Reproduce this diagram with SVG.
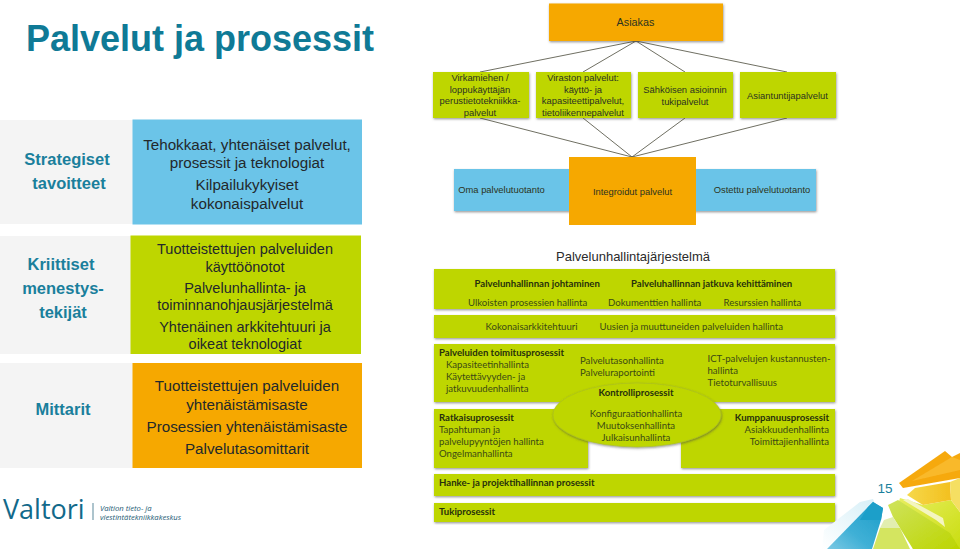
<svg xmlns="http://www.w3.org/2000/svg" width="960" height="549" viewBox="0 0 960 549">
<style>
text{font-family:"Liberation Sans",Arial,sans-serif;text-anchor:middle}
.lab{font-weight:bold;font-size:16.500px;fill:#1a7f9c}
.t{font-size:15.200px;fill:#23282b}
.tg{font-size:14.500px}
.g{fill:#bed600}
.o{fill:#f6a800}
.b{fill:#6bc4e8}
.p{fill:#f4f4f4}
.s{filter:url(#sh)}
.d{font-size:9.400px;fill:#2c3320}
.c{font-family:"Lato","Open Sans",sans-serif;font-size:9.600px;fill:#3c4a14;text-anchor:start}
.cb{font-family:"Lato","Open Sans",sans-serif;font-size:9.600px;font-weight:bold;fill:#27300c;text-anchor:start}
.m{text-anchor:middle}
.e{text-anchor:end}
.cn{stroke:#4a4a3a;stroke-width:.8;fill:none}
</style>
<defs>
<filter id="sh" x="-5%" y="-10%" width="110%" height="125%"><feDropShadow dx="0.6" dy="1.2" stdDeviation="0.8" flood-color="#444" flood-opacity="0.55"/></filter>
<filter id="bl" x="-10%" y="-10%" width="120%" height="120%"><feGaussianBlur stdDeviation="0.7"/></filter>
<linearGradient id="gb" x1="1" y1="0" x2="0" y2="1"><stop offset="0" stop-color="#1b9cc8"/><stop offset=".6" stop-color="#3fb0d6"/><stop offset="1" stop-color="#7cc9e4"/></linearGradient>
<linearGradient id="gh" x1="1" y1="0" x2="0" y2="1"><stop offset="0" stop-color="#d6eff7"/><stop offset="1" stop-color="#ffffff"/></linearGradient>
<linearGradient id="gg" x1="0" y1="0" x2="1" y2="1"><stop offset="0" stop-color="#cfe35c"/><stop offset="1" stop-color="#bcd500"/></linearGradient>
<linearGradient id="gy" x1="0" y1="0" x2="1" y2="0"><stop offset="0" stop-color="#f6d84a"/><stop offset="1" stop-color="#f3c01f"/></linearGradient>
<linearGradient id="gw" x1="0" y1="0" x2="1" y2="1"><stop offset="0" stop-color="#e8ee60"/><stop offset="1" stop-color="#c9dd10"/></linearGradient>
</defs>

<text x="200" y="51" style="font-size:36px;font-weight:bold;fill:#0f7a96">Palvelut ja prosessit</text>

<g id="strategiset">
<rect class="p" x="0" y="120" width="133" height="104"/>
<rect class="b" x="132.500" y="119.500" width="229.500" height="105"/>
<text class="lab" x="67" y="165">Strategiset</text>
<text class="lab" x="69" y="189">tavoitteet</text>
<text class="t" x="247" y="150">Tehokkaat, yhtenäiset palvelut,</text>
<text class="t" x="247" y="168">prosessit ja teknologiat</text>
<text class="t" x="247" y="190">Kilpailukykyiset</text>
<text class="t" x="247" y="209">kokonaispalvelut</text>
</g>
<g id="kriittiset">
<rect class="p" x="0" y="236" width="133" height="118"/>
<rect class="g" x="130.500" y="235.500" width="230.500" height="118.500"/>
<text class="lab" x="61" y="270">Kriittiset</text>
<text class="lab" x="63" y="294">menestys-</text>
<text class="lab" x="63" y="318">tekijät</text>
<text class="t tg" x="245" y="254">Tuotteistettujen palveluiden</text>
<text class="t tg" x="245" y="272">käyttöönotot</text>
<text class="t tg" x="245" y="293">Palvelunhallinta- ja</text>
<text class="t tg" x="245" y="310">toiminnanohjausjärjestelmä</text>
<text class="t tg" x="245" y="332">Yhtenäinen arkkitehtuuri ja</text>
<text class="t tg" x="245" y="349">oikeat teknologiat</text>
</g>
<g id="mittarit">
<rect class="p" x="0" y="363" width="133" height="105"/>
<rect class="o" x="132.500" y="363" width="229.500" height="105"/>
<text class="lab" x="63" y="415">Mittarit</text>
<text class="t" x="247" y="391">Tuotteistettujen palveluiden</text>
<text class="t" x="247" y="410">yhtenäistämisaste</text>
<text class="t" x="247" y="432">Prosessien yhtenäistämisaste</text>
<text class="t" x="247" y="454">Palvelutasomittarit</text>
</g>

<g id="connectors">
<path class="cn" d="M636 41L480 72M636 41L583 72M636 41L685 72M636 41L787 72M632 157L480 118M632 157L583 118M632 157L685 118M632 157L787 118"/>
</g>

<g id="asiakas"><rect class="o s" x="549" y="3.500" width="174" height="37.500"/><text class="d" x="635.500" y="26" style="font-size:10.800px">Asiakas</text></g>
<g id="virkamiehen"><rect class="g s" x="433" y="72" width="96" height="46"/>
<text class="d" x="480" y="81">Virkamiehen /</text><text class="d" x="480" y="92.500">loppukäyttäjän</text><text class="d" x="480" y="104">perustietotekniikka-</text><text class="d" x="480" y="116">palvelut</text></g>
<g id="viraston"><rect class="g s" x="536" y="72" width="95" height="46"/>
<text class="d" x="583" y="81">Viraston palvelut:</text><text class="d" x="583" y="92.500">käyttö- ja</text><text class="d" x="583" y="104">kapasiteettipalvelut,</text><text class="d" x="583" y="116">tietoliikennepalvelut</text></g>
<g id="sahkoisen"><rect class="g s" x="638" y="72" width="95" height="46"/>
<text class="d" x="685" y="93">Sähköisen asioinnin</text><text class="d" x="685" y="105">tukipalvelut</text></g>
<g id="asiantuntija"><rect class="g s" x="740" y="72" width="96" height="46"/><text class="d" x="787.500" y="99">Asiantuntijapalvelut</text></g>
<g id="oma-ostettu"><rect class="b s" x="454" y="169" width="362" height="42"/>
<text class="d" x="501.500" y="193">Oma palvelutuotanto</text><text class="d" x="762" y="193">Ostettu palvelutuotanto</text></g>
<g id="integroidut"><rect class="o" x="569" y="157" width="127" height="68"/><text class="d" x="632.500" y="195">Integroidut palvelut</text></g>

<text x="633" y="261" style="font-size:13px;fill:#2b2b2b">Palvelunhallintajärjestelmä</text>

<g id="johtaminen"><rect class="g s" x="434" y="269" width="401" height="40"/>
<text class="cb" x="474.500" y="287">Palvelunhallinnan johtaminen</text>
<text class="cb" x="631" y="287">Palveluhallinnan jatkuva kehittäminen</text>
<text class="c" x="468" y="306">Ulkoisten prosessien hallinta</text>
<text class="c" x="608" y="306">Dokumenttien hallinta</text>
<text class="c" x="723.500" y="306">Resurssien hallinta</text></g>
<g id="arkkitehtuuri"><rect class="g s" x="434" y="315" width="401" height="23"/>
<text class="c" x="485.500" y="330">Kokonaisarkkitehtuuri</text>
<text class="c" x="599.500" y="330">Uusien ja muuttuneiden palveluiden hallinta</text></g>
<g id="toimitus"><rect class="g s" x="434" y="344" width="401" height="58"/>
<text class="cb" x="439" y="356">Palveluiden toimitusprosessit</text>
<text class="c" x="446" y="368">Kapasiteetinhallinta</text>
<text class="c" x="446" y="380">Käytettävyyden- ja</text>
<text class="c" x="446" y="392">jatkuvuudenhallinta</text>
<text class="c" x="580" y="364">Palvelutasonhallinta</text>
<text class="c" x="580" y="376">Palveluraportointi</text>
<text class="c" x="707.500" y="362">ICT-palvelujen kustannusten-</text>
<text class="c" x="707.500" y="374">hallinta</text>
<text class="c" x="707.500" y="386">Tietoturvallisuus</text></g>
<g id="ratkaisu"><rect class="g s" x="434" y="409" width="154" height="59"/>
<text class="cb" x="439" y="421">Ratkaisuprosessit</text>
<text class="c" x="439" y="433">Tapahtuman ja</text>
<text class="c" x="439" y="445">palvelupyyntöjen hallinta</text>
<text class="c" x="439" y="457">Ongelmanhallinta</text></g>
<g id="kumppanuus"><rect class="g s" x="681" y="409" width="154" height="59"/>
<text class="cb e" x="829" y="421">Kumppanuusprosessit</text>
<text class="c e" x="829" y="433">Asiakkuudenhallinta</text>
<text class="c e" x="829" y="445">Toimittajienhallinta</text></g>
<g id="kontrolli"><ellipse class="g s" cx="637" cy="415" rx="84" ry="32" stroke="#a9bd20" stroke-width=".6"/>
<text class="cb m" x="636" y="396">Kontrolliprosessit</text>
<text class="c m" x="636" y="417">Konfiguraationhallinta</text>
<text class="c m" x="636" y="429">Muutoksenhallinta</text>
<text class="c m" x="636" y="441">Julkaisunhallinta</text></g>
<g id="hanke"><rect class="g s" x="434" y="474" width="401" height="22"/><text class="cb" x="439" y="486">Hanke- ja projektihallinnan prosessit</text></g>
<g id="tuki"><rect class="g s" x="434" y="503" width="401" height="19"/><text class="cb" x="439" y="515">Tukiprosessit</text></g>

<g id="koristekuvio" filter="url(#bl)">
<polygon points="860,502 873,499 878,512 840,549 822,549 824,530" fill="url(#gh)"/>
<polygon points="868,507 873,502 883,508 881,520 872,549 827,549" fill="url(#gb)"/>
<polygon points="868,507 873,502 883,508 881,520 860,520" fill="#1f9fc9"/>
<polygon points="900,498 923,505 951,500 960,512 960,549 913,549 898,505" fill="url(#gw)"/>
<polygon points="888,505 898,500 950,533 960,549 913,549 893,517" fill="url(#gg)"/>
<polygon points="880,528 900,528 910,549 873,549" fill="#d4e560"/>
<polygon points="884,520 893,517 900,528 880,528" fill="#e2eeb0"/>
<polygon points="903,500 908,499 943,518 945,527 936,520" fill="#f4f5c0"/>
<polygon points="907,495 915,488 950,482 951,500 923,505" fill="url(#gy)"/>
<polygon points="950,482 960,478 960,512 951,500" fill="#f5df62"/>
<polygon points="899,483 945,451 952,457 960,453 960,478 903,488" fill="#f6a90e"/>
<polygon points="912,481 952,457 960,460 960,470" fill="#f9b92c"/>
</g>
<text x="885" y="493" style="font-size:13.500px;fill:#1a7f9c">15</text>

<g id="valtori">
<text x="3" y="519" style="font-family:'Open Sans',sans-serif;font-size:27px;fill:#12698a;text-anchor:start">Valtori</text>
<rect x="92.500" y="503" width="1" height="17" fill="#5c8a9c"/>
<text x="100" y="511" style="font-family:'Open Sans',sans-serif;font-size:7.700px;font-style:italic;fill:#1d5a74;text-anchor:start">Valtion tieto- ja</text>
<text x="100" y="520" style="font-family:'Open Sans',sans-serif;font-size:7.700px;font-style:italic;fill:#1d5a74;text-anchor:start">viestintätekniikkakeskus</text>
</g>
</svg>
